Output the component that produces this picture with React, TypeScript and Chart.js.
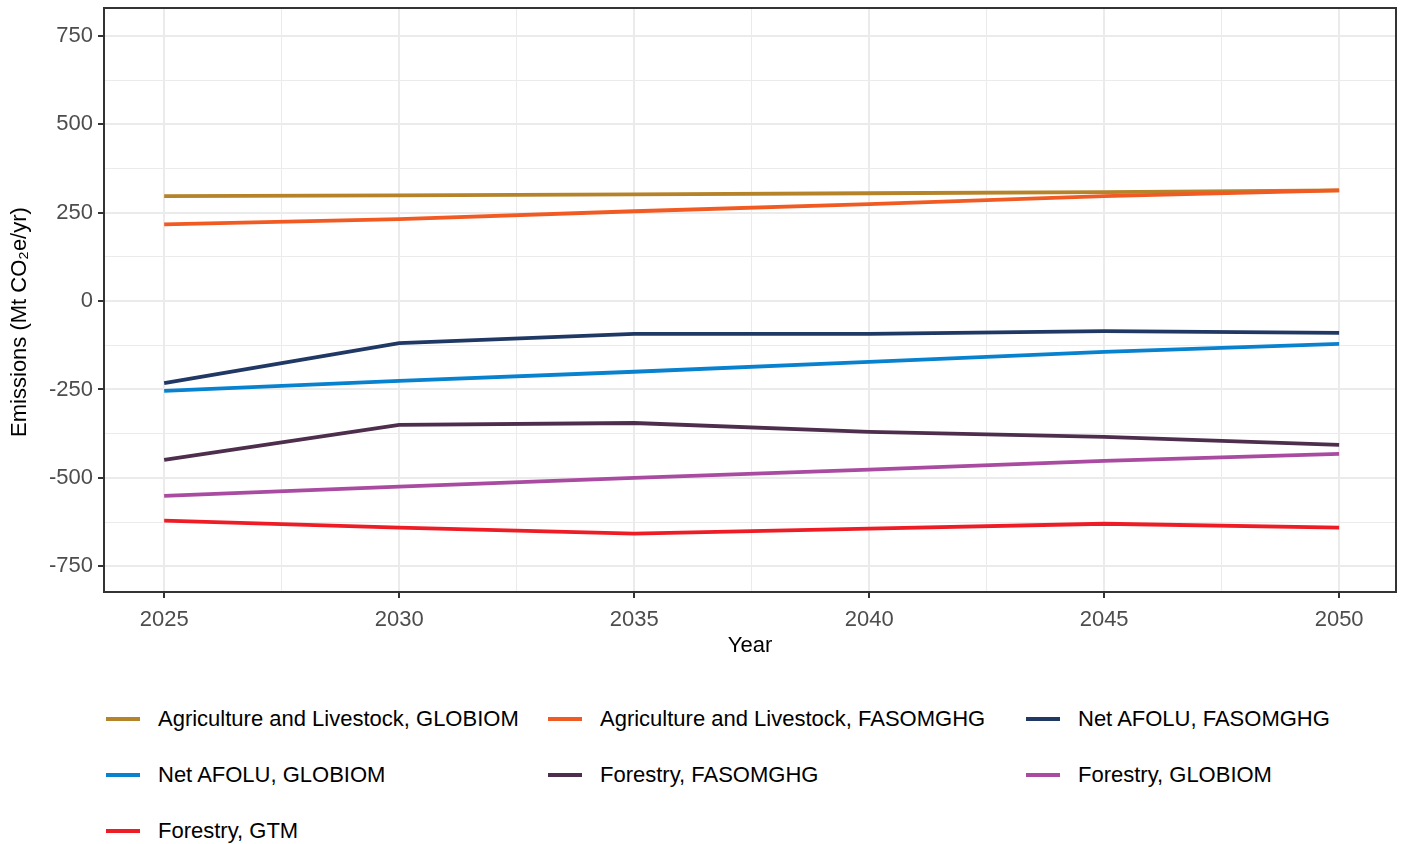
import React, { useEffect, useRef } from "react";
import { Chart, registerables } from "chart.js";

Chart.register(...registerables);

const years = [2025, 2030, 2035, 2040, 2045, 2050];

const seriesNames = [
  "Agriculture and Livestock, GLOBIOM",
  "Agriculture and Livestock, FASOMGHG",
  "Net AFOLU, FASOMGHG",
  "Net AFOLU, GLOBIOM",
  "Forestry, FASOMGHG",
  "Forestry, GLOBIOM",
  "Forestry, GTM",
];

const agGlobiom = [297, 299, 302, 305, 308, 313];
const agFasom = [217, 232, 254, 274, 297, 313];
const netFasom = [-232, -119, -93, -93, -85, -90];
const netGlobiom = [-254, -226, -200, -172, -144, -121];
const forFasom = [-449, -350, -345, -370, -384, -407];
const forGlobiom = [-551, -525, -500, -477, -452, -432];
const forGtm = [-621, -641, -658, -644, -630, -641];

const seriesValues = [agGlobiom, agFasom, netFasom, netGlobiom, forFasom, forGlobiom, forGtm];

const seriesColors = ["#B5832A", "#F15A22", "#1F3864", "#0882CF", "#4E2E4D", "#A94BA0", "#EE1C25"];

const xTickValues = [2025, 2027.5, 2030, 2032.5, 2035, 2037.5, 2040, 2042.5, 2045, 2047.5, 2050];
const yTickValues = [-750, -625, -500, -375, -250, -125, 0, 125, 250, 375, 500, 625, 750];

const yTitle = "Emissions (Mt CO\u2082e/yr)";

const FONT = "'Liberation Sans', Arial, Helvetica, sans-serif";

const panelBorder = {
  id: "panelBorder",
  afterDraw(chart: any) {
    const { ctx, chartArea } = chart;
    ctx.save();
    ctx.strokeStyle = "#333333";
    ctx.lineWidth = 2;
    ctx.strokeRect(chartArea.left, chartArea.top, chartArea.right - chartArea.left, chartArea.bottom - chartArea.top);
    ctx.translate(20, 322);
    ctx.rotate(-Math.PI / 2);
    ctx.fillStyle = "#000000";
    ctx.font = `22px ${FONT}`;
    ctx.textAlign = "center";
    ctx.textBaseline = "middle";
    ctx.fillText(yTitle, 0, 0);
    ctx.restore();
  },
};

export default function App() {
  const canvasRef = useRef<HTMLCanvasElement | null>(null);

  useEffect(() => {
    const canvas = canvasRef.current;
    if (!canvas) return;
    const chart = new Chart(canvas, {
      type: "line",
      data: {
        datasets: seriesNames.map((name, i) => ({
          label: name,
          data: years.map((y, j) => ({ x: y, y: seriesValues[i][j] })),
          borderColor: seriesColors[i],
          backgroundColor: seriesColors[i],
          borderWidth: 3.8,
          pointRadius: 0,
          tension: 0,
          fill: false,
          order: seriesNames.length - i,
        })),
      },
      options: {
        animation: false,
        responsive: false,
        devicePixelRatio: 1,
        layout: { padding: { top: 8, right: 10, left: 0, bottom: 0 } },
        plugins: {
          legend: { display: false },
          tooltip: { enabled: false },
        },
        scales: {
          x: {
            type: "linear",
            min: 2023.72,
            max: 2051.21,
            afterBuildTicks: (scale: any) => {
              scale.ticks = xTickValues.map((v) => ({ value: v }));
            },
            afterFit: (scale: any) => {
              scale.height = 68;
              scale.paddingLeft = 0;
              scale.paddingRight = 0;
            },
            border: { display: false },
            grid: {
              color: "#EBEBEB",
              lineWidth: (ctx: any) => (ctx.tick && ctx.tick.value % 5 === 0 ? 2 : 1),
              tickColor: (ctx: any) => (ctx.tick && ctx.tick.value % 5 === 0 ? "#333333" : "rgba(0,0,0,0)"),
              tickWidth: 2,
              tickLength: 6,
              drawTicks: true,
            },
            ticks: {
              autoSkip: false,
              maxRotation: 0,
              padding: 9,
              color: "#4D4D4D",
              font: { family: FONT, size: 22 },
              callback: (v: any) => (Number(v) % 5 === 0 ? String(v) : ""),
            },
            title: {
              display: true,
              text: "Year",
              color: "#000000",
              font: { family: FONT, size: 22 },
              padding: { top: 0, bottom: 1 },
            },
          },
          y: {
            type: "linear",
            min: -823,
            max: 829,
            afterBuildTicks: (scale: any) => {
              scale.ticks = yTickValues.map((v) => ({ value: v }));
            },
            afterFit: (scale: any) => {
              scale.width = 104;
              scale.paddingTop = 0;
              scale.paddingBottom = 0;
            },
            border: { display: false },
            grid: {
              color: "#EBEBEB",
              lineWidth: (ctx: any) => (ctx.tick && ctx.tick.value % 250 === 0 ? 2 : 1),
              tickColor: (ctx: any) => (ctx.tick && ctx.tick.value % 250 === 0 ? "#333333" : "rgba(0,0,0,0)"),
              tickWidth: 2,
              tickLength: 6,
              drawTicks: true,
            },
            ticks: {
              autoSkip: false,
              padding: 5,
              color: "#4D4D4D",
              font: { family: FONT, size: 22 },
              callback: (v: any) => (Number(v) % 250 === 0 ? String(v) : ""),
            },
            title: { display: false },
          },
        },
      },
      plugins: [panelBorder],
    });
    return () => chart.destroy();
  }, []);

  const legendCols = [106, 548, 1026];
  const legendRows = [719, 775, 831];

  return (
    <div style={{ position: "absolute", left: 0, top: 0, width: 1406, height: 844, background: "#FFFFFF", overflow: "hidden" }}>
      <canvas ref={canvasRef} width={1406} height={660} style={{ display: "block", width: 1406, height: 660 }} />
      {seriesNames.map((name, i) => (
        <div
          key={name}
          style={{
            position: "absolute",
            left: legendCols[i % 3],
            top: legendRows[Math.floor(i / 3)] - 15,
            height: 30,
            display: "flex",
            alignItems: "center",
            fontFamily: FONT,
            fontSize: 22,
            color: "#000000",
            whiteSpace: "nowrap",
          }}
        >
          <span style={{ display: "inline-block", width: 34, height: 4, background: seriesColors[i], marginRight: 18 }} />
          <span>{name}</span>
        </div>
      ))}
    </div>
  );
}
